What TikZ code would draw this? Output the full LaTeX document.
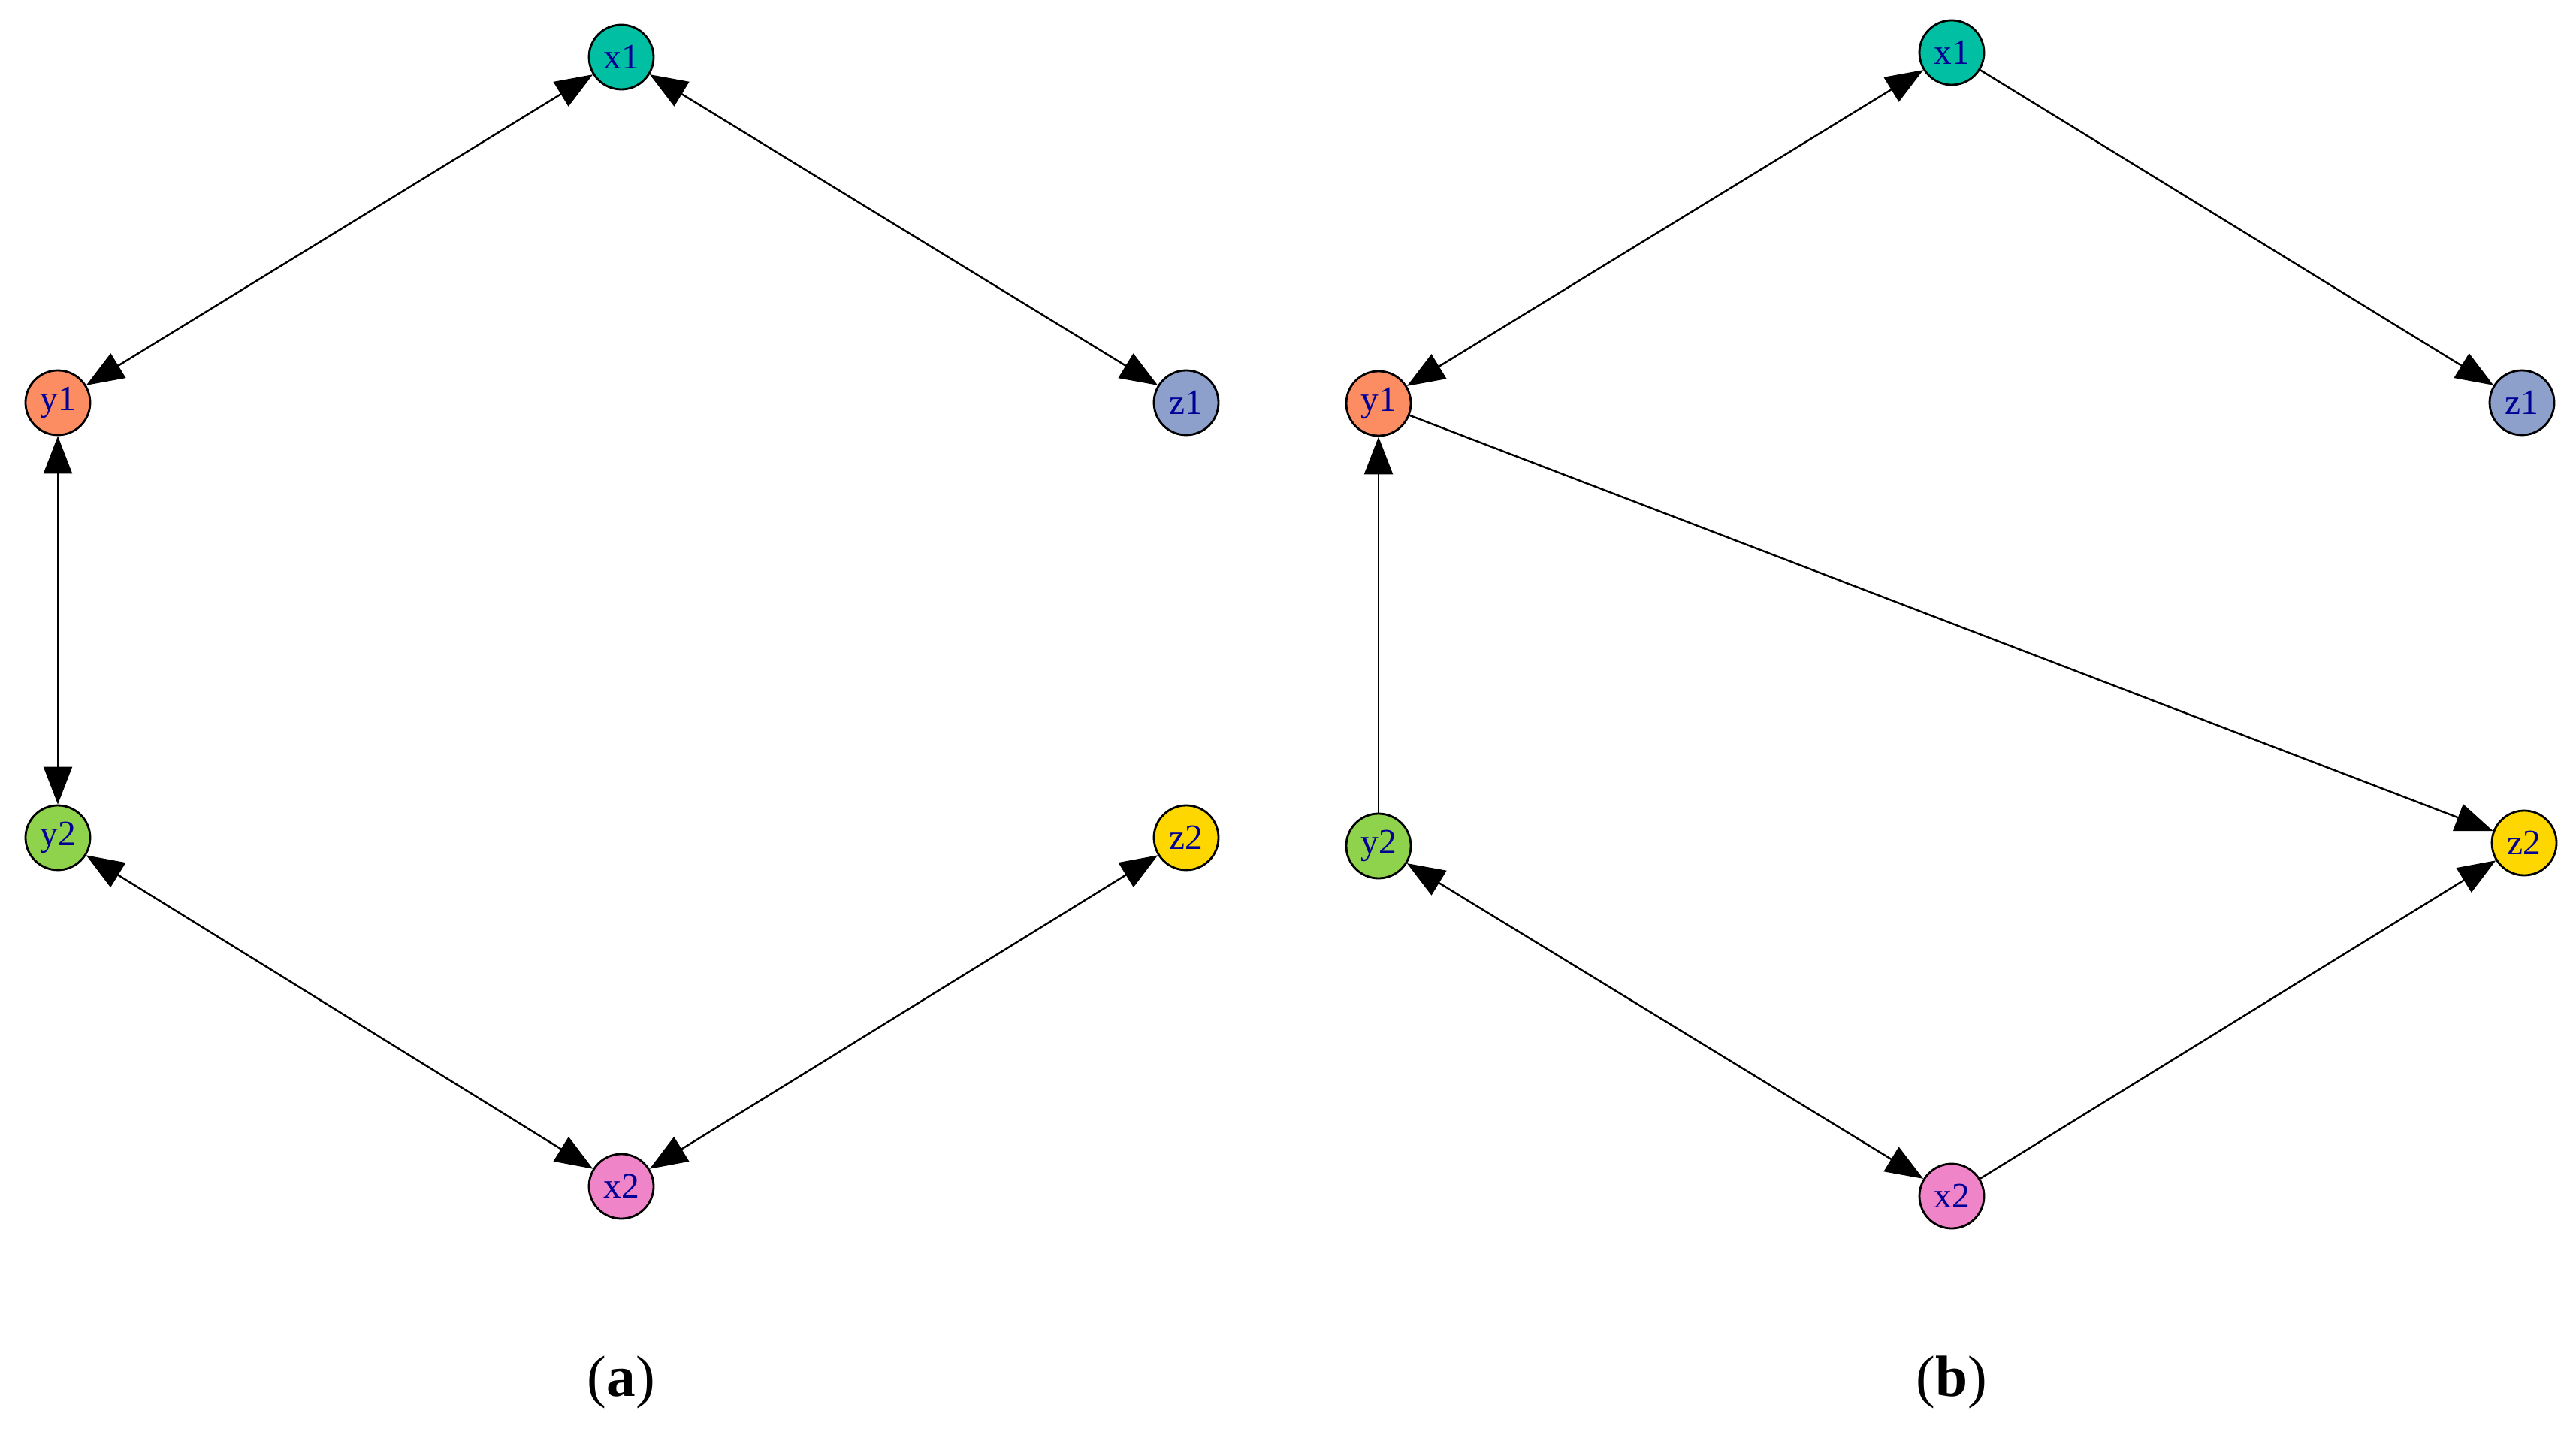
\documentclass[tikz,border=0pt]{standalone}
\usepackage{fontspec}
\setmainfont{Liberation Serif}
\usetikzlibrary{arrows.meta}
\definecolor{cxone}{RGB}{0,191,163}
\definecolor{cyone}{RGB}{252,141,98}
\definecolor{czone}{RGB}{141,160,203}
\definecolor{cytwo}{RGB}{143,210,76}
\definecolor{cztwo}{RGB}{255,215,0}
\definecolor{cxtwo}{RGB}{240,132,200}
\definecolor{ctext}{RGB}{0,0,150}
\tikzset{
  vert/.style={circle, draw=black, line width=0.8pt, minimum size=0.86cm, inner sep=0pt,
    text=ctext, font=\fontsize{13.5}{14}\selectfont},
  tipa/.tip={Triangle[length=0.5cm,width=0.38cm]},
  con/.style={line width=0.7pt, black},
  lab/.style={font=\fontsize{22}{24}\selectfont, inner sep=0pt}
}
\begin{document}
\begin{tikzpicture}
\useasboundingbox (0,0) rectangle (34.29,19.01);
% (a)
\node[vert, fill=cxone] (ax1) at (8.27,18.25) {x1};
\node[vert, fill=cyone] (ay1) at (0.77,13.65) {y1};
\node[vert, fill=czone] (az1) at (15.79,13.65) {z1};
\node[vert, fill=cytwo] (ay2) at (0.77,7.86) {y2};
\node[vert, fill=cztwo] (az2) at (15.79,7.86) {z2};
\node[vert, fill=cxtwo] (ax2) at (8.27,3.22) {x2};
\draw[con, tipa-tipa] (ax1) -- (ay1);
\draw[con, tipa-tipa] (ax1) -- (az1);
\draw[con, tipa-tipa] (ay1) -- (ay2);
\draw[con, tipa-tipa] (ay2) -- (ax2);
\draw[con, tipa-tipa] (ax2) -- (az2);
\node[lab] (la) at (8.27,0.61) {(\textbf{a})};
% (b)
\node[vert, fill=cxone] (bx1) at (25.98,18.31) {x1};
\node[vert, fill=cyone] (by1) at (18.35,13.64) {y1};
\node[vert, fill=czone] (bz1) at (33.57,13.65) {z1};
\node[vert, fill=cytwo] (by2) at (18.35,7.75) {y2};
\node[vert, fill=cztwo] (bz2) at (33.60,7.79) {z2};
\node[vert, fill=cxtwo] (bx2) at (25.98,3.09) {x2};
\draw[con, tipa-tipa] (bx1) -- (by1);
\draw[con, -tipa] (bx1) -- (bz1);
\draw[con, -tipa] (by2) -- (by1);
\draw[con, -tipa] (by1) -- (bz2);
\draw[con, tipa-tipa] (by2) -- (bx2);
\draw[con, -tipa] (bx2) -- (bz2);
\node[lab] (lb) at (25.98,0.61) {(\textbf{b})};
\end{tikzpicture}
\end{document}
